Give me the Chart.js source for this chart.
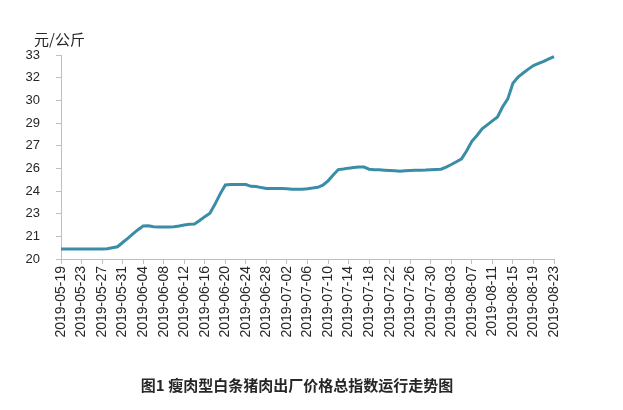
<!DOCTYPE html>
<html>
<head>
<meta charset="utf-8">
<script src="https://cdn.jsdelivr.net/npm/chart.js@4"></script>
<style>
  html, body { margin: 0; padding: 0; background: #fff; }
  #wrap { width: 623px; height: 410px; position: relative; }
</style>
</head>
<body>
<div id="wrap"><canvas id="chart" width="623" height="410"></canvas></div>
<script>
// daily dates, 2019-05-19 .. 2019-08-23
const dates = [
  "2019-05-19","2019-05-20","2019-05-21","2019-05-22","2019-05-23","2019-05-24","2019-05-25","2019-05-26",
  "2019-05-27","2019-05-28","2019-05-29","2019-05-30","2019-05-31","2019-06-01","2019-06-02","2019-06-03",
  "2019-06-04","2019-06-05","2019-06-06","2019-06-07","2019-06-08","2019-06-09","2019-06-10","2019-06-11",
  "2019-06-12","2019-06-13","2019-06-14","2019-06-15","2019-06-16","2019-06-17","2019-06-18","2019-06-19",
  "2019-06-20","2019-06-21","2019-06-22","2019-06-23","2019-06-24","2019-06-25","2019-06-26","2019-06-27",
  "2019-06-28","2019-06-29","2019-06-30","2019-07-01","2019-07-02","2019-07-03","2019-07-04","2019-07-05",
  "2019-07-06","2019-07-07","2019-07-08","2019-07-09","2019-07-10","2019-07-11","2019-07-12","2019-07-13",
  "2019-07-14","2019-07-15","2019-07-16","2019-07-17","2019-07-18","2019-07-19","2019-07-20","2019-07-21",
  "2019-07-22","2019-07-23","2019-07-24","2019-07-25","2019-07-26","2019-07-27","2019-07-28","2019-07-29",
  "2019-07-30","2019-07-31","2019-08-01","2019-08-02","2019-08-03","2019-08-04","2019-08-05","2019-08-06",
  "2019-08-07","2019-08-08","2019-08-09","2019-08-10","2019-08-11","2019-08-12","2019-08-13","2019-08-14",
  "2019-08-15","2019-08-16","2019-08-17","2019-08-18","2019-08-19","2019-08-20","2019-08-21","2019-08-22",
  "2019-08-23"
];

// price index, 元/公斤
const prices = [
  20.64, 20.64, 20.64, 20.64, 20.64, 20.64, 20.64, 20.64,
  20.64, 20.66, 20.72, 20.78, 21.05, 21.32, 21.60, 21.87,
  22.10, 22.12, 22.05, 22.04, 22.04, 22.04, 22.06, 22.10,
  22.17, 22.22, 22.23, 22.45, 22.70, 22.92, 23.50, 24.15,
  24.72, 24.74, 24.74, 24.74, 24.74, 24.63, 24.62, 24.55,
  24.50, 24.49, 24.49, 24.49, 24.48, 24.45, 24.45, 24.45,
  24.48, 24.52, 24.57, 24.70, 24.98, 25.35, 25.70, 25.74,
  25.79, 25.83, 25.87, 25.86, 25.72, 25.69, 25.68, 25.66,
  25.64, 25.62, 25.60, 25.62, 25.64, 25.65, 25.66, 25.67,
  25.69, 25.71, 25.72, 25.86, 26.02, 26.20, 26.38, 26.90,
  27.50, 27.87, 28.30, 28.55, 28.80, 29.05, 29.70, 30.20,
  31.20, 31.60, 31.85, 32.10, 32.33, 32.46, 32.60, 32.75,
  32.90
];

// dates shown on the x axis
const tickLabels = [
  "2019-05-19","2019-05-23","2019-05-27","2019-05-31","2019-06-04","2019-06-08","2019-06-12",
  "2019-06-16","2019-06-20","2019-06-24","2019-06-28","2019-07-02","2019-07-06","2019-07-10",
  "2019-07-14","2019-07-18","2019-07-22","2019-07-26","2019-07-30","2019-08-03","2019-08-07",
  "2019-08-11","2019-08-15","2019-08-19","2019-08-23"
];

// y axis: 20..33 split in 9 equal steps, labels rounded
const yMin = 20;
const yMax = 33;
const ySteps = 9;

const unitText = "元/公斤";
const titleText = "图1 瘦肉型白条猪肉出厂价格总指数运行走势图";

const axisColor = "#bfbfbf";
const textColor = "#262626";
const lineColor = "#3a8da6";

// draws the unit label and the caption
const textPlugin = {
  id: "texts",
  afterDraw(chart) {
    const ctx = chart.ctx;
    ctx.save();
    ctx.fillStyle = textColor;
    ctx.textBaseline = "middle";
    ctx.textAlign = "left";
    ctx.font = '15px "Noto Sans CJK SC", sans-serif';
    ctx.fillText(unitText, 34, 39);
    ctx.textAlign = "center";
    ctx.font = 'bold 15px "Noto Sans CJK SC", sans-serif';
    ctx.fillText(titleText, 297, 385);
    ctx.restore();
  }
};

const ctx = document.getElementById("chart").getContext("2d");
new Chart(ctx, {
  type: "line",
  data: {
    labels: dates,
    datasets: [{
      data: prices,
      borderColor: lineColor,
      borderWidth: 3,
      pointRadius: 0,
      tension: 0,
      fill: false
    }]
  },
  options: {
    responsive: false,
    animation: false,
    layout: { padding: { top: 55, left: 0, right: 69, bottom: 56 } },
    plugins: {
      legend: { display: false },
      tooltip: { enabled: false }
    },
    scales: {
      x: {
        offset: false,
        grid: { drawOnChartArea: false, color: axisColor, tickLength: 5 },
        border: { color: axisColor, width: 1 },
        ticks: {
          autoSkip: false,
          minRotation: 90,
          maxRotation: 90,
          padding: 2,
          color: textColor,
          font: { family: "Liberation Sans", size: 14 },
          callback: function (value) {
            const d = this.getLabelForValue(value);
            return tickLabels.includes(d) ? d : null;
          }
        },
        afterFit(scale) { scale.height = 95; }
      },
      y: {
        min: yMin,
        max: yMax,
        grid: { drawOnChartArea: false, color: axisColor, tickLength: 5 },
        border: { color: axisColor, width: 1 },
        ticks: {
          padding: 16,
          color: textColor,
          font: { family: "Liberation Sans", size: 13 },
          callback: (v) => Math.round(v)
        },
        afterBuildTicks(scale) {
          const ticks = [];
          for (let i = 0; i <= ySteps; i++) ticks.push({ value: yMin + i * (yMax - yMin) / ySteps });
          scale.ticks = ticks;
        },
        afterFit(scale) { scale.width = 61; }
      }
    }
  },
  plugins: [textPlugin]
});
</script>
</body>
</html>
